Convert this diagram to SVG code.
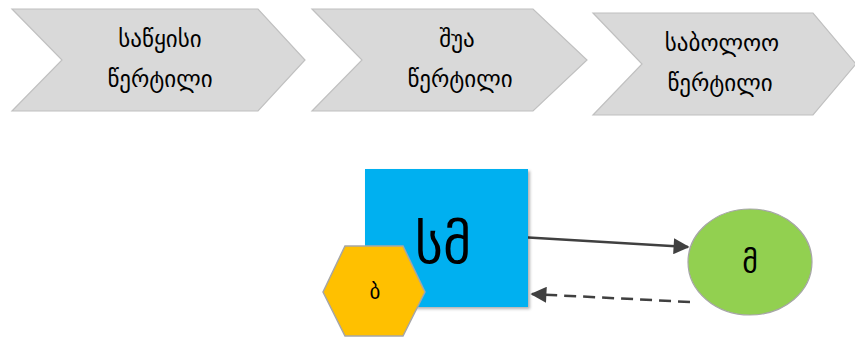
<svg xmlns="http://www.w3.org/2000/svg" width="855" height="339" viewBox="0 0 855 339">
<style>
.chev{fill:#d9d9d9;stroke:#c0c0c0;stroke-width:1.2}
.t{font-family:"DejaVu Sans","Noto Sans",sans-serif;fill:#000;text-anchor:middle}
.ct{font-size:23px}
.conn{stroke:#404040;fill:none;stroke-width:2.5}
</style>
<defs>
<marker id="ah2" viewBox="0 0 10 10" refX="9" refY="5" markerWidth="17" markerHeight="16" orient="auto" markerUnits="userSpaceOnUse">
<path d="M0,0 L10,5 L0,10 z" fill="#404040"/>
</marker>
<filter id="sh" x="-10%" y="-10%" width="125%" height="125%">
<feDropShadow dx="2" dy="2" stdDeviation="1.5" flood-color="#000" flood-opacity="0.3"/>
</filter>
</defs>
<g id="chevron1">
<polygon class="chev" points="12,9 258,9 305,60 258,111 12,111 62,60"/>
<text class="t ct" x="160" y="47">საწყისი</text>
<text class="t ct" x="160" y="87">წერტილი</text>
</g>
<g id="chevron2">
<polygon class="chev" points="312,9 533,9 587,60 533,111 312,111 362,60"/>
<text class="t ct" x="457" y="47">შუა</text>
<text class="t ct" x="460" y="87">წერტილი</text>
</g>
<g id="chevron3">
<polygon class="chev" points="593,13 813,13 856,64 813,115 593,115 642,64"/>
<text class="t ct" x="722" y="51">საბოლოო</text>
<text class="t ct" x="720" y="91">წერტილი</text>
</g>
<g id="connectors">
<line class="conn" x1="520" y1="237" x2="688" y2="247" marker-end="url(#ah2)"/>
<line class="conn" x1="690" y1="302" x2="532" y2="294" stroke-width="3" stroke-dasharray="12,7" marker-end="url(#ah2)"/>
</g>
<g id="sm">
<rect x="365" y="169" width="163" height="138" fill="#00b0f0" filter="url(#sh)"/>
<text class="t" x="443" y="263" font-size="54">სმ</text>
</g>
<g id="b">
<polygon points="323,292 345,246 403,246 425,292 403,336 345,336" fill="#ffc000" stroke="#a6a6a6" stroke-width="1.5"/>
<text class="t" x="375" y="299" font-size="21">ბ</text>
</g>
<g id="m">
<ellipse cx="750" cy="262" rx="62" ry="53" fill="#92d050" stroke="#a6a6a6" stroke-width="1.2"/>
<text class="t" x="750" y="273" font-size="30">მ</text>
</g>
</svg>
